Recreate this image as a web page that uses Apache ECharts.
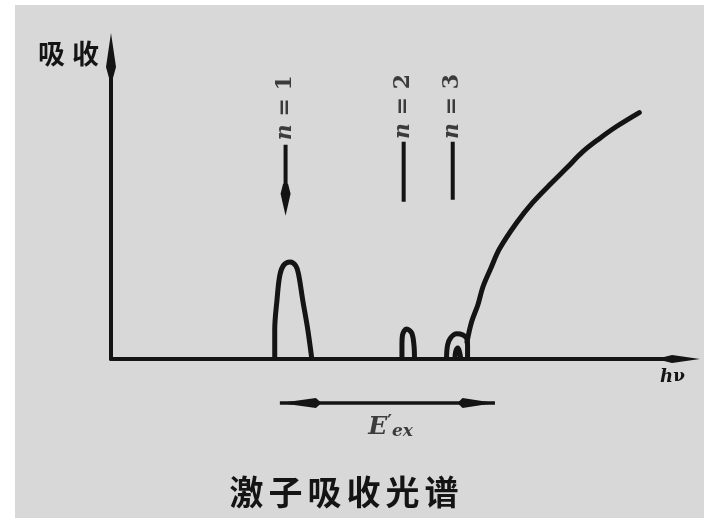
<!DOCTYPE html>
<html>
<head>
<meta charset="utf-8">
<script src="https://cdn.jsdelivr.net/npm/echarts@6/dist/echarts.min.js"></script>
<style>
  html, body { margin: 0; padding: 0; background: #fff; }
  #chart { width: 704px; height: 519px; }
</style>
</head>
<body>
<div id="chart"></div>
<script>
// Exciton absorption spectrum (schematic), arbitrary units on both axes.
// n = 1 exciton line
const peak1X = [28.7, 28.7, 29.1, 29.6, 30.3, 31.4, 32.4, 32.9, 33.6, 34.5, 35.2];
const peak1Y = [0, 9.6, 19.5, 27.7, 31.0, 32.0, 30.7, 27.7, 19.5, 9.6, 0];
// n = 2 exciton line
const peak2X = [51.0, 51.0, 51.1, 51.8, 52.7, 53.1, 53.2];
const peak2Y = [0, 4.6, 7.9, 9.9, 8.6, 4.6, 0];
// n = 3 exciton line and the small bump beneath it
const peak3X = [58.8, 59.0, 59.5, 60.6, 61.7, 62.4, 62.5, 62.5];
const peak3Y = [0, 4.6, 6.9, 8.3, 7.9, 6.6, 4.6, 0];
const bumpX = [60.3, 60.4, 60.8, 61.1, 61.3];
const bumpY = [0, 2.3, 3.6, 2.3, 0];
// band-to-band absorption edge
const edgeX = [62.4, 63.2, 64.3, 65.2, 66.6, 68.1, 71.1, 73.9, 76.9, 79.9, 82.7, 85.6, 88.6, 92.6];
const edgeY = [5.6, 12.2, 17.8, 23.8, 30.0, 36.3, 44.9, 51.5, 57.4, 63.0, 68.3, 72.6, 76.6, 81.2];
// level markers above the lines (n = 1 ends where its arrowhead begins)
const levelN = [1, 2, 3];
const levelX = [30.6, 51.3, 59.9];
const levelTop = [70.6, 71.6, 71.6];
const levelBottom = [57.4, 51.8, 52.5];
const levelLabelY = [82.8, 83.2, 83.2];
// exciton binding energy span E'ex (drawn below the axis)
const spanX = [29.6, 67.3];
const spanY = -14.5;
const spanLabelX = 49.0;
const spanLabelY = -22.5;

const INK = '#141414';
const SERIF = 'DejaVu Serif';
const CJK = 'Noto Sans CJK SC';
const spearUp = 'path://M5,0 L10,34 L7,45 L3,45 L0,34 Z';
const spearDown = 'path://M2.5,0 L7.5,0 L10,10 L5,32 L0,10 Z';
const spearLeft = 'path://M0,5 L36,0 L40,3.5 L40,6.5 L36,10 Z';
const spearRight = 'path://M40,5 L4,0 L0,3.5 L0,6.5 L4,10 Z';

const zip = (xs, ys) => xs.map((x, i) => [x, ys[i]]);

function curve(name, xs, ys, cap) {
  return {
    name: name, type: 'line', data: zip(xs, ys),
    symbol: 'none', smooth: 0.35, z: 4, silent: true,
    lineStyle: { color: INK, width: 5, cap: cap || 'butt', join: 'round' }
  };
}

const levelSeries = levelN.map((n, i) => ({
  name: 'n' + n, type: 'line', symbol: 'none', z: 4, silent: true,
  itemStyle: { color: INK },
  lineStyle: { color: INK, width: 4 },
  data: [
    [levelX[i], levelTop[i]],
    i === 0
      ? { value: [levelX[i], levelBottom[i]], symbol: spearDown, symbolSize: [10, 32], symbolOffset: [0, 15] }
      : [levelX[i], levelBottom[i]]
  ]
}));

const titleChars = '激子吸收光谱'.split('');

const chart = echarts.init(document.getElementById('chart'), null, { renderer: 'canvas' });
chart.setOption({
  animation: false,
  backgroundColor: '#ffffff',
  graphic: [{
    type: 'rect', left: 15, top: 5, z: -10, silent: true,
    shape: { width: 689, height: 513 },
    style: { fill: '#d8d8d8' }
  }],
  title: {
    text: titleChars.map(c => '{c|' + c + '}').join(''),
    left: 222, top: 470,
    textStyle: {
      rich: {
        c: { fontFamily: CJK, fontSize: 34, fontWeight: 'bold', color: INK, padding: [0, 2.5, 0, 2.5] }
      }
    }
  },
  grid: { left: 111, right: 22.5, top: 55.5, bottom: 160, outerBoundsMode: 'none' },
  xAxis: {
    type: 'value', min: 0, max: 100,
    axisLine: {
      onZero: false,
      lineStyle: { color: INK, width: 4 },
      symbol: ['none', spearUp], symbolSize: [10, 37]
    },
    axisTick: { show: false }, axisLabel: { show: false }, splitLine: { show: false },
    name: '{h|h}{v|ν}', nameLocation: 'end', nameGap: -9,
    nameTextStyle: {
      align: 'center', verticalAlign: 'top', padding: [9, 0, 0, 0],
      rich: {
        h: { fontFamily: SERIF, fontStyle: 'italic', fontWeight: 'bold', fontSize: 18, color: INK },
        v: { fontFamily: SERIF, fontWeight: 'bold', fontSize: 17, color: INK }
      }
    }
  },
  yAxis: {
    type: 'value', min: 0, max: 100,
    axisLine: {
      lineStyle: { color: INK, width: 4 },
      symbol: ['none', spearUp], symbolSize: [10, 45]
    },
    axisTick: { show: false }, axisLabel: { show: false }, splitLine: { show: false },
    name: '{a|吸}{b|收}', nameLocation: 'end', nameGap: 0,
    nameTextStyle: {
      align: 'right', verticalAlign: 'middle', padding: [0, 12, 3, 0],
      rich: {
        a: { fontFamily: CJK, fontWeight: 'bold', fontSize: 27, color: INK, padding: [0, 7, 0, 0] },
        b: { fontFamily: CJK, fontWeight: 'bold', fontSize: 27, color: INK }
      }
    }
  },
  series: [
    curve('n1', peak1X, peak1Y),
    curve('n2', peak2X, peak2Y),
    curve('n3', peak3X, peak3Y),
    curve('bump', bumpX, bumpY),
    curve('edge', edgeX, edgeY, 'round'),
    ...levelSeries,
    {
      name: 'levelLabels', type: 'scatter', silent: true, z: 5,
      symbolSize: 1, itemStyle: { color: 'transparent' },
      data: levelN.map((n, i) => [levelX[i], levelLabelY[i]]),
      label: {
        show: true, position: 'inside', rotate: 90,
        formatter: p => '{i|n}{t| = ' + levelN[p.dataIndex] + '}',
        rich: {
          i: { fontFamily: SERIF, fontStyle: 'italic', fontWeight: 'bold', fontSize: 22, color: INK },
          t: { fontFamily: SERIF, fontWeight: 'bold', fontSize: 22, color: INK }
        }
      }
    },
    {
      name: 'span', type: 'line', clip: false, silent: true, z: 4,
      symbol: 'none', itemStyle: { color: INK },
      lineStyle: { color: INK, width: 3.5 },
      data: [
        { value: [spanX[0], spanY], symbol: spearLeft, symbolSize: [40, 10], symbolOffset: [20, 0] },
        { value: [spanX[1], spanY], symbol: spearRight, symbolSize: [36, 10], symbolOffset: [-18, 0] }
      ]
    },
    {
      name: 'spanLabel', type: 'scatter', clip: false, silent: true, z: 5,
      symbolSize: 1, itemStyle: { color: 'transparent' },
      data: [[spanLabelX, spanLabelY]],
      label: {
        show: true, position: 'inside',
        formatter: '{E|E}{p|′}{s|ex}',
        rich: {
          E: { fontFamily: SERIF, fontStyle: 'italic', fontWeight: 'bold', fontSize: 25, color: INK },
          p: { fontFamily: SERIF, fontWeight: 'bold', fontSize: 18, color: INK, verticalAlign: 'top' },
          s: { fontFamily: SERIF, fontStyle: 'italic', fontWeight: 'bold', fontSize: 17, color: INK, verticalAlign: 'bottom' }
        }
      }
    }
  ]
});
</script>
</body>
</html>
